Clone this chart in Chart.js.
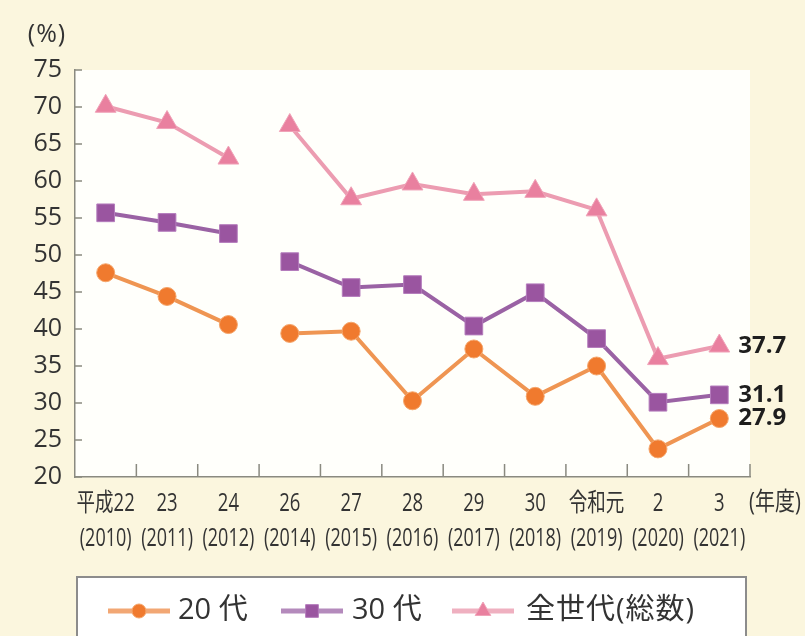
<!DOCTYPE html>
<html lang="ja">
<head>
<meta charset="utf-8">
<title>年代別投票率の推移</title>
<script src="https://cdn.jsdelivr.net/npm/chart.js@4"></script>
<style>
  html, body { margin: 0; padding: 0; background: #fbf6de; }
  #wrap { width: 805px; height: 636px; }
</style>
</head>
<body>
<div id="wrap"><canvas id="chart" width="805" height="636"></canvas></div>
<script>
"use strict";

// 年度（和暦）と西暦
const nendo = ["平成22", "23", "24", "26", "27", "28", "29", "30", "令和元", "2", "3"];
const seireki = ["(2010)", "(2011)", "(2012)", "(2014)", "(2015)", "(2016)", "(2017)", "(2018)", "(2019)", "(2020)", "(2021)"];

// 割合（%）
const age20 = [47.6, 44.4, 40.6, 39.4, 39.7, 30.3, 37.3, 30.9, 35.0, 23.8, 27.9];
const age30 = [55.7, 54.4, 52.9, 49.1, 45.6, 46.0, 40.4, 44.9, 38.7, 30.1, 31.1];
const allAges = [70.1, 67.9, 63.1, 67.5, 57.6, 59.6, 58.2, 58.6, 56.1, 36.0, 37.7];

// 平成25年度は調査なし → 24 と 26 の間は線を切る
const gapAfter = "24";

const yTicks = { min: 20, max: 75, step: 5 };

const FONT = "'Open Sans', 'Noto Sans CJK JP', sans-serif";
const TEXT = "#333333";

const gapIndex = nendo.indexOf(gapAfter);

function serie(label, data, line, fill, edge, style, radius, legendLine) {
    return {
        label,
        data,
        borderColor: line,
        borderWidth: 4,
        pointStyle: style,
        pointRadius: radius,
        pointHoverRadius: radius,
        pointBackgroundColor: fill,
        pointBorderColor: edge,
        pointBorderWidth: 1,
        tension: 0,
        legendLine,
        segment: {
            borderColor: ctx => ctx.p0DataIndex === gapIndex ? "rgba(0,0,0,0)" : line
        }
    };
}

// 横に詰めた文字（長体）
function narrowText(ctx, text, x, y, sx) {
    ctx.save();
    ctx.translate(x, y);
    ctx.scale(sx, 1);
    ctx.fillText(text, 0, 0);
    ctx.restore();
}

// 背景・目盛り・軸ラベル・数値ラベル・凡例を描く
const decor = {
    id: "decor",
    beforeDraw(chart) {
        const { ctx, chartArea: a } = chart;
        ctx.save();
        ctx.fillStyle = "#fbf6de";
        ctx.fillRect(0, 0, chart.width, chart.height);
        ctx.fillStyle = "#fffffb";
        ctx.fillRect(a.left, a.top, a.right - a.left, a.bottom - a.top);
        ctx.restore();
    },
    afterDraw(chart) {
        const { ctx, chartArea: a } = chart;
        const x = chart.scales.x;
        const y = chart.scales.y;
        ctx.save();

        // 内向きの目盛り
        ctx.strokeStyle = "#8a8a80";
        ctx.lineWidth = 1.5;
        ctx.beginPath();
        y.ticks.forEach(t => {
            const py = y.getPixelForValue(t.value);
            ctx.moveTo(a.left, py);
            ctx.lineTo(a.left + 7, py);
        });
        for (let i = 0; i < nendo.length; i++) {
            const px = x.getPixelForValue(i + 0.5);
            ctx.moveTo(px, a.bottom);
            ctx.lineTo(px, a.bottom - 13);
        }
        ctx.stroke();

        // 年度ラベル（2段）
        ctx.fillStyle = TEXT;
        ctx.textBaseline = "middle";
        ctx.textAlign = "center";
        ctx.font = "25px " + FONT;
        nendo.forEach((n, i) => {
            const px = x.getPixelForValue(i);
            narrowText(ctx, n, px, a.bottom + 27, 0.74);
            narrowText(ctx, seireki[i], px, a.bottom + 62, 0.72);
        });
        narrowText(ctx, "(年度)", 775, 503, 0.8);

        // 単位
        ctx.font = "25px " + FONT;
        ctx.letterSpacing = "1px";
        ctx.fillText("(%)", 47, 35);
        ctx.letterSpacing = "0px";

        // 最新年度の値
        ctx.textAlign = "left";
        ctx.fillStyle = "#1e1e1e";
        ctx.font = "bold 24px " + FONT;
        chart.data.datasets.forEach((ds, i) => {
            const pts = chart.getDatasetMeta(i).data;
            const last = pts[pts.length - 1];
            ctx.fillText(ds.data[ds.data.length - 1].toFixed(1), last.x + 19, last.y);
        });

        // 凡例
        const boxTop = 577;
        ctx.fillStyle = "#ffffff";
        ctx.fillRect(77, boxTop, 669, 70);
        ctx.strokeStyle = "#8c8c8c";
        ctx.lineWidth = 2;
        ctx.strokeRect(77, boxTop, 669, 70);

        const items = [
            { mark: 139, text: 178 },
            { mark: 312, text: 352 },
            { mark: 483, text: 526 }
        ];
        const ly = 611;
        ctx.font = "29px " + FONT;
        chart.data.datasets.forEach((ds, i) => {
            const it = items[i];
            ctx.strokeStyle = ds.legendLine;
            ctx.lineWidth = 5;
            ctx.beginPath();
            ctx.moveTo(it.mark - 31, ly);
            ctx.lineTo(it.mark + 31, ly);
            ctx.stroke();
            ctx.fillStyle = ds.pointBackgroundColor;
            ctx.strokeStyle = ds.pointBorderColor;
            ctx.lineWidth = 1;
            Chart.helpers.drawPoint(ctx, {
                pointStyle: ds.pointStyle,
                radius: ds.pointStyle === "circle" ? 7 : 9,
                rotation: 0,
                borderWidth: 1
            }, it.mark, ly);
            ctx.fillStyle = TEXT;
            ctx.letterSpacing = i === 2 ? "1px" : "0px";
            ctx.fillText(ds.label, it.text, ly);
        });

        ctx.restore();
    }
};

new Chart(document.getElementById("chart"), {
    type: "line",
    data: {
        labels: nendo.map((n, i) => n + " " + seireki[i]),
        datasets: [
            serie("20 代", age20, "#ef9552", "#f07a2e", "#f5a56a", "circle", 9, "#f2a774"),
            serie("30 代", age30, "#9a62a4", "#9a55a0", "#b47cbc", "rect", 12.5, "#b48abc"),
            serie("全世代(総数)", allAges, "#ec9cb1", "#e9809f", "#f0a3b8", "triangle", 12, "#efb0c0")
        ]
    },
    options: {
        responsive: false,
        animation: false,
        layout: { padding: { top: 70, right: 55, bottom: 79, left: 0 } },
        plugins: {
            legend: { display: false },
            tooltip: { enabled: false }
        },
        scales: {
            x: {
                offset: true,
                grid: { display: false, drawTicks: false },
                border: { display: true, color: "#8a8a80", width: 1.5 },
                ticks: { display: false, autoSkip: false },
                afterFit: s => { s.height = 80; }
            },
            y: {
                min: yTicks.min,
                max: yTicks.max,
                grid: { display: false, drawTicks: false },
                border: { display: true, color: "#8a8a80", width: 1.5 },
                ticks: {
                    stepSize: yTicks.step,
                    color: TEXT,
                    padding: 13,
                    font: { family: FONT, size: 25 }
                },
                afterFit: s => { s.width = 75; }
            }
        }
    },
    plugins: [decor]
});
</script>
</body>
</html>
